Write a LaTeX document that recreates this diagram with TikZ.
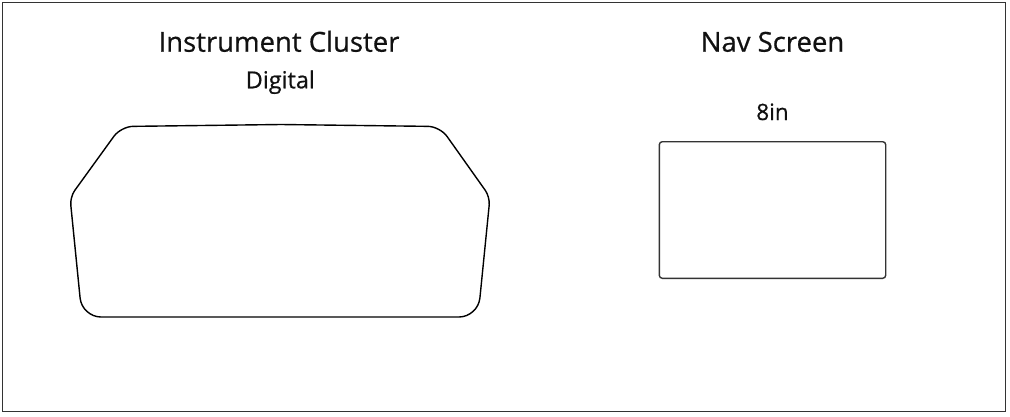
\documentclass[tikz,border=0pt]{standalone}
\usepackage{fontspec}
\setmainfont{Open Sans}
\newfontfamily\lblfont{Open Sans}[FakeBold=0.6]
\definecolor{linegray}{HTML}{333333}
\definecolor{textblack}{HTML}{111111}
\begin{document}
\begin{tikzpicture}[x=1pt,y=-1pt,
  frame/.style={draw=linegray,line width=1.5pt},
  outline/.style={draw=black,line width=1.4pt},
  title/.style={anchor=base,inner sep=0pt,text=textblack,font=\lblfont\fontsize{27.5}{30}\selectfont},
  sub/.style={anchor=base,inner sep=0pt,text=textblack,font=\lblfont\fontsize{23.5}{26}\selectfont},
  screen/.style={draw=linegray,line width=1.4pt,rounded corners=3pt,inner sep=0pt,minimum width=226.4pt,minimum height=136.6pt}]
\useasboundingbox (0,0) rectangle (1010,416);
\draw[frame] (2.5,2.5) rectangle (1005.5,411.5);
% Instrument cluster
\node[title] (ictitle) at (279,51.7) {Instrument Cluster};
\node[sub] (icsub) at (280.3,88.3) {Digital};
\draw[outline] (281,124.5) [rounded corners=12pt] -- (440,126.5) [rounded corners=8pt] -- (490,197) [rounded corners=19pt] -- (478,317) -- (82,317) [rounded corners=8pt] -- (70,197) [rounded corners=12pt] -- (121,126.5) [sharp corners] -- cycle;
% Nav screen
\node[title] (navtitle) at (772.5,51.7) {Nav Screen};
\node[sub,font=\lblfont\fontsize{22.5}{25}\selectfont] (navsub) at (772.5,120) {8in};
\node[screen] (nav) at (772.5,210) {};
\end{tikzpicture}
\end{document}
